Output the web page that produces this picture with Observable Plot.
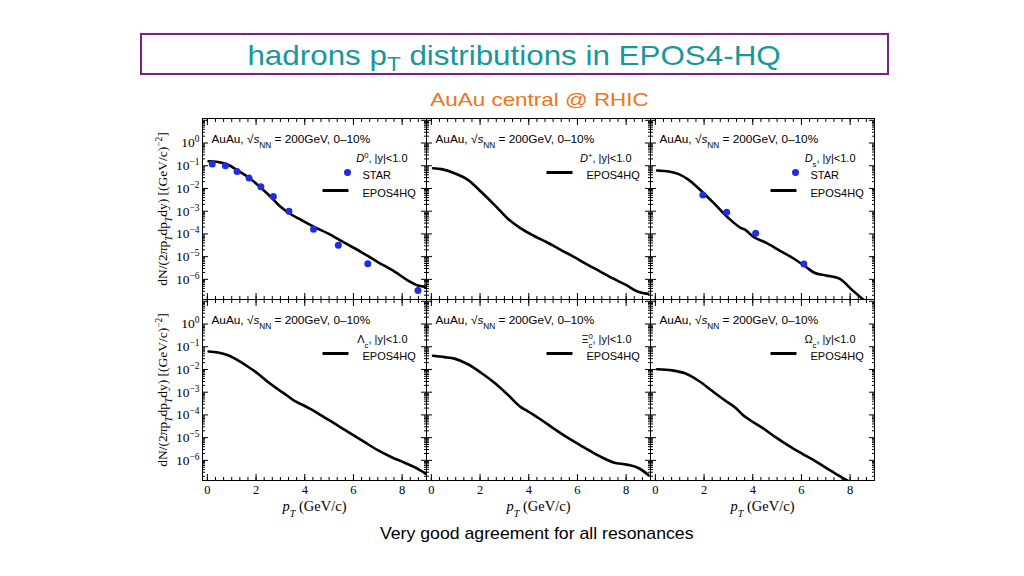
<!DOCTYPE html>
<html><head><meta charset="utf-8">
<script src="https://cdn.jsdelivr.net/npm/d3@7"></script>
<script src="https://cdn.jsdelivr.net/npm/@observablehq/plot@0.6"></script>
<style>
html,body{margin:0;padding:0;background:#fff;}
body{width:1024px;height:576px;position:relative;overflow:hidden;font-family:"Liberation Sans",Arial,sans-serif;}
#titlebox{position:absolute;left:140px;top:33px;width:745px;height:38px;border:2px solid #7b2087;display:flex;align-items:center;justify-content:center;}
#title{color:#17999a;font-size:28px;display:inline-block;transform:scaleX(1.12);white-space:nowrap;line-height:1;position:relative;top:2px;}
#title sub{font-size:0.72em;vertical-align:-0.28em;line-height:0;}
#subtitle{position:absolute;left:340px;width:400px;top:89px;text-align:center;color:#f07418;font-size:19px;}
#subtitle span,#caption span{display:inline-block;white-space:nowrap;}
#subtitle span{transform:scaleX(1.18);}
#caption{position:absolute;left:337px;width:400px;top:524px;text-align:center;color:#000;font-size:17px;}
#caption span{transform:scaleX(1.04);}
#chart{position:absolute;left:150px;top:110px;}
</style>
</head><body>
<div id="titlebox"><span id="title">hadrons p<sub>T</sub> distributions in EPOS4-HQ</span></div>
<div id="subtitle"><span>AuAu central @ RHIC</span></div>
<div id="chart"></div>
<div id="caption"><span>Very good agreement for all resonances</span></div>
<script>
// ---------- data ----------
const particleLabels = ["\\i{D}^{0}, |y|<1.0", "\\i{D}^{+}, |y|<1.0", "\\i{D}_{s}, |y|<1.0",
                        "Λ_{c}, |y|<1.0", "Ξ^{0}_{c}, |y|<1.0", "Ω_{c}, |y|<1.0"];
const hasStar = [true, false, true, false, false, false];
const headerText = "AuAu, √\\i{s}_{NN} = 200GeV, 0–10%";
const yLabelText = "dN/(2\\i{π}p_i{T}dp_i{T}dy) [(GeV/c)^{−2}]";
const xLabelText = "\\i{p}_i{T} (GeV/c)";
const yMajorTicks = [1e-6, 1e-5, 1e-4, 1e-3, 1e-2, 1e-1, 1];
const xLabelTicks = [0, 2, 4, 6, 8];

// D0
const d0EposPt  = [0.05, 0.44, 0.85, 1.26, 1.74, 2.22, 2.63, 2.97, 3.38, 3.86, 4.4, 4.95, 5.64, 6.32, 7.0, 7.69, 8.24, 8.65, 9.06];
const d0EposVal = [0.158, 0.145, 0.11, 0.060, 0.028, 0.0102, 0.0040, 0.0017, 7.9e-4, 4.1e-4, 2.0e-4, 1.05e-4, 4.0e-5, 1.6e-5, 5.8e-6, 2.2e-6, 8.9e-7, 5.4e-7, 4.6e-7];
const d0StarPt  = [0.2, 0.74, 1.22, 1.71, 2.2, 2.71, 3.35, 4.36, 5.38, 6.59, 8.65];
const d0StarVal = [0.12, 0.10, 0.056, 0.029, 0.012, 0.0044, 1.0e-3, 1.6e-4, 3.2e-5, 4.9e-6, 3.2e-7];
// D+
const dpEposPt  = [0.07, 0.41, 0.95, 1.5, 2.04, 2.59, 3.13, 3.67, 4.22, 4.76, 5.31, 5.85, 6.39, 6.94, 7.48, 8.03, 8.44, 8.91];
const dpEposVal = [0.078, 0.071, 0.047, 0.024, 0.0072, 0.0019, 4.8e-4, 1.74e-4, 8.1e-5, 4.2e-5, 2.0e-5, 9.8e-6, 4.6e-6, 2.2e-6, 1.07e-6, 5.4e-7, 3.0e-7, 2.3e-7];
// Ds
const dsEposPt  = [0.07, 0.55, 0.96, 1.37, 1.92, 2.47, 3.02, 3.5, 3.71, 3.99, 4.54, 5.09, 5.64, 6.19, 6.53, 7.01, 7.56, 8.11, 8.59];
const dsEposVal = [0.062, 0.056, 0.043, 0.024, 0.0072, 0.0019, 4.8e-4, 1.86e-4, 1.48e-4, 7.9e-5, 4.1e-5, 1.9e-5, 8.7e-6, 3.5e-6, 1.95e-6, 1.48e-6, 1.07e-6, 3.2e-7, 1.17e-7];
const dsStarPt  = [1.95, 2.93, 4.12, 6.1];
const dsStarVal = [0.0052, 8.9e-4, 1.07e-4, 4.8e-6];
// Lambda_c
const lcEposPt  = [0.05, 0.44, 0.85, 1.26, 1.67, 2.08, 2.49, 2.9, 3.3, 3.6, 3.9, 4.3, 4.82, 5.36, 5.91, 6.46, 7.0, 7.55, 8.1, 8.51, 8.99];
const lcEposVal = [0.062, 0.056, 0.042, 0.025, 0.0132, 0.0065, 0.0028, 1.35e-3, 6.8e-4, 4.0e-4, 2.8e-4, 1.66e-4, 7.6e-5, 3.4e-5, 1.45e-5, 6.3e-6, 2.8e-6, 1.4e-6, 7.9e-7, 5.0e-7, 2.5e-7];
// Xi_c
const xcEposPt  = [0.07, 0.54, 0.95, 1.5, 2.04, 2.59, 3.13, 3.67, 3.95, 4.49, 5.03, 5.58, 6.12, 6.67, 7.21, 7.48, 8.03, 8.5, 8.91];
const xcEposVal = [0.040, 0.035, 0.030, 0.017, 0.0072, 0.0026, 7.9e-4, 2.2e-4, 1.48e-4, 6.3e-5, 2.5e-5, 1.02e-5, 4.6e-6, 2.1e-6, 1.07e-6, 8.1e-7, 6.5e-7, 4.6e-7, 2.3e-7];
// Omega_c
const ocEposPt  = [0.07, 0.69, 1.24, 1.79, 2.34, 2.89, 3.3, 3.57, 3.85, 4.4, 4.95, 5.5, 6.05, 6.6, 7.15, 7.7, 7.97];
const ocEposVal = [0.0102, 0.0091, 0.0066, 0.0031, 1.12e-3, 4.1e-4, 2.0e-4, 1.05e-4, 6.3e-5, 2.7e-5, 1.02e-5, 4.2e-6, 1.9e-6, 8.9e-7, 3.8e-7, 1.66e-7, 1.17e-7];

// ---------- tables ----------
const toRows = (pt, val, col, row, key) => pt.map((p, i) => ({pt: p, val: val[i], col, row, key}));
const eposRows = [
  ...toRows(d0EposPt, d0EposVal, 0, 0, "D0"),
  ...toRows(dpEposPt, dpEposVal, 1, 0, "D+"),
  ...toRows(dsEposPt, dsEposVal, 2, 0, "Ds"),
  ...toRows(lcEposPt, lcEposVal, 0, 1, "Lc"),
  ...toRows(xcEposPt, xcEposVal, 1, 1, "Xc"),
  ...toRows(ocEposPt, ocEposVal, 2, 1, "Oc")
];
const starRows = [...toRows(d0StarPt, d0StarVal, 0, 0, "D0"), ...toRows(dsStarPt, dsStarVal, 2, 0, "Ds")];
const panels = particleLabels.map((label, i) => ({label, col: i % 3, row: Math.floor(i / 3), star: hasStar[i]}));
const starPanels = panels.filter(d => d.star);
const plainPanels = panels.filter(d => !d.star);

const yDomain = [1.3e-7, 12];
const yInTicks = [...yMajorTicks, 10];
const yMinorTicks = d3.range(-7, 2).flatMap(e => d3.range(2, 10).map(m => m * Math.pow(10, e))).filter(v => v > yDomain[0] && v < yDomain[1]);
const xMinorTicks = d3.range(0, 27).map(i => i / 3);
const expFmt = d => "10^{" + String(Math.round(Math.log10(d))).replace("-", "−") + "}";

const SANS = "'Liberation Sans', Arial, sans-serif";
const SERIF = "'Liberation Serif', 'Times New Roman', serif";
const dash = {draw(ctx) { ctx.moveTo(-13, 0); ctx.lineTo(13, 0); }};
const blue = "#1f2ee6";

const chart = Plot.plot({
  width: 735, height: 415,
  marginLeft: 51, marginRight: 10, marginTop: 7, marginBottom: 45,
  style: {fontFamily: SERIF, fontSize: "12px", color: "black", background: "white", overflow: "visible"},
  x: {domain: [-0.2, 9.0]},
  y: {type: "log", domain: yDomain},
  fx: {domain: [0, 1, 2], padding: 0, axis: null},
  fy: {domain: [0, 1], padding: 0, axis: null},
  marks: [
    // labelled axes
    Plot.axisY({anchor: "left", ticks: yMajorTicks, tickFormat: expFmt, tickSize: 0, tickPadding: 3, label: null, fontSize: 13.5}),
    Plot.axisX({anchor: "bottom", ticks: xLabelTicks, tickFormat: d => String(d), tickSize: 0, tickPadding: 5, label: null, fontSize: 12.5}),
    // inward ticks on all four sides of every panel
    Plot.axisY({anchor: "left", ticks: yInTicks, tickSize: -6, fill: "none", facetAnchor: null, label: null}),
    Plot.axisY({anchor: "right", ticks: yInTicks, tickSize: -6, fill: "none", facetAnchor: null, label: null}),
    Plot.axisY({anchor: "left", ticks: yMinorTicks, tickSize: -3, fill: "none", facetAnchor: null, label: null}),
    Plot.axisY({anchor: "right", ticks: yMinorTicks, tickSize: -3, fill: "none", facetAnchor: null, label: null}),
    Plot.axisX({anchor: "bottom", ticks: xLabelTicks, tickSize: -6, fill: "none", facetAnchor: null, label: null}),
    Plot.axisX({anchor: "top", ticks: xLabelTicks, tickSize: -6, fill: "none", facetAnchor: null, label: null}),
    Plot.axisX({anchor: "bottom", ticks: xMinorTicks, tickSize: -3, fill: "none", facetAnchor: null, label: null}),
    Plot.axisX({anchor: "top", ticks: xMinorTicks, tickSize: -3, fill: "none", facetAnchor: null, label: null}),
    Plot.frame({stroke: "black", strokeWidth: 1}),
    // data
    Plot.line(eposRows, {x: "pt", y: "val", z: "key", fx: "col", fy: "row", stroke: "black", strokeWidth: 2.6, curve: "monotone-x", clip: true}),
    Plot.dot(starRows, {x: "pt", y: "val", fx: "col", fy: "row", fill: blue, r: 3.5, clip: true}),
    // in-panel legends
    Plot.text(panels, {fx: "col", fy: "row", text: () => headerText, frameAnchor: "top-left", textAnchor: "start", dx: 9, dy: 16, fontFamily: SANS, fontSize: 11.8}),
    Plot.text(panels, {fx: "col", fy: "row", text: "label", frameAnchor: "top-right", textAnchor: "end", dx: -19, dy: 36, fontFamily: SANS, fontSize: 11}),
    Plot.dot(starPanels, {fx: "col", fy: "row", frameAnchor: "top-right", dx: -79, dy: 54, r: 3.5, fill: blue}),
    Plot.text(starPanels, {fx: "col", fy: "row", text: () => "STAR", frameAnchor: "top-right", textAnchor: "start", dx: -64, dy: 53, fontFamily: SANS, fontSize: 11}),
    Plot.dot(starPanels, {fx: "col", fy: "row", frameAnchor: "top-right", dx: -91, dy: 72, symbol: dash, stroke: "black", strokeWidth: 3, fill: "none"}),
    Plot.text(starPanels, {fx: "col", fy: "row", text: () => "EPOS4HQ", frameAnchor: "top-right", textAnchor: "start", dx: -64, dy: 71, fontFamily: SANS, fontSize: 11}),
    Plot.dot(plainPanels, {fx: "col", fy: "row", frameAnchor: "top-right", dx: -91, dy: 54, symbol: dash, stroke: "black", strokeWidth: 3, fill: "none"}),
    Plot.text(plainPanels, {fx: "col", fy: "row", text: () => "EPOS4HQ", frameAnchor: "top-right", textAnchor: "start", dx: -64, dy: 53, fontFamily: SANS, fontSize: 11}),
    // axis titles
    Plot.text(panels.filter(d => d.col === 0), {fx: "col", fy: "row", text: () => yLabelText, frameAnchor: "left", textAnchor: "middle", rotate: -90, dx: -40, fontSize: 13.5}),
    Plot.text(panels.filter(d => d.row === 1), {fx: "col", fy: "row", text: () => xLabelText, frameAnchor: "bottom", textAnchor: "middle", dy: 30, fontSize: 14.5})
  ]
});
document.getElementById("chart").appendChild(chart);

// ---------- turn ^{..} _{..} \i{..} markup into tspans ----------
(function richify(svg) {
  const ns = "http://www.w3.org/2000/svg";
  svg.querySelectorAll("text, tspan").forEach(el => {
    if (el.childNodes.length !== 1 || el.firstChild.nodeType !== 3) return;
    const s = el.textContent;
    if (!/(\\i|\^|_i|_)\{/.test(s)) return;
    const re = /(\\i|\^|_i|_)\{([^}]*)\}/g;
    el.textContent = "";
    let last = 0, m, prevSup = null;
    while ((m = re.exec(s))) {
      if (m.index > last) { el.appendChild(document.createTextNode(s.slice(last, m.index))); prevSup = null; }
      const t = document.createElementNS(ns, "tspan");
      t.textContent = m[2];
      if (m[1] === "\\i") t.setAttribute("font-style", "italic");
      else {
        t.setAttribute("font-size", "70%");
        t.setAttribute("baseline-shift", m[1] === "^" ? "super" : "sub");
        if (m[1] === "_i") t.setAttribute("font-style", "italic");
      }
      el.appendChild(t);
      if (m[1] !== "^" && m[1] !== "\\i" && prevSup) t.setAttribute("dx", -prevSup.getComputedTextLength());
      prevSup = m[1] === "^" ? t : null;
      last = re.lastIndex;
    }
    if (last < s.length) el.appendChild(document.createTextNode(s.slice(last)));
  });
})(chart);
</script>
</body></html>
